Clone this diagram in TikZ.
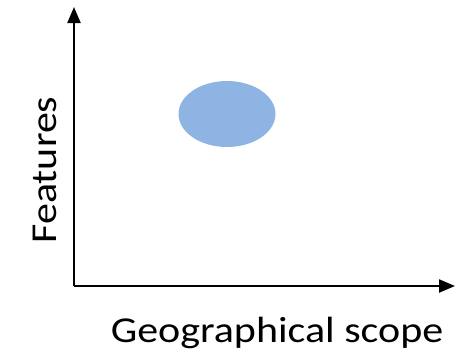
\documentclass[tikz,border=0pt]{standalone}
\usepackage{fontspec}
\setmainfont{Carlito}[FakeStretch=1.15]
\usetikzlibrary{arrows.meta,shapes.geometric}
\definecolor{blobblue}{RGB}{142,180,227}
\tikzset{axislbl/.style={font=\fontsize{36.5}{44}\selectfont, inner sep=0pt}}

\begin{document}
\begin{tikzpicture}[x=1pt, y=-1pt, >={Triangle[length=16pt, width=13pt]},
  line width=2.2pt]
  \useasboundingbox (0,0) rectangle (463,354);
  % axes
  \coordinate (o) at (74, 286);
  \coordinate (ytip) at (74, 7);
  \coordinate (xtip) at (455, 286);
  \draw[->] (o) -- (ytip);
  \draw[->] (o) -- (xtip);
  % region
  \node[ellipse, fill=blobblue, draw=none, minimum width=97pt,
    minimum height=66pt, inner sep=0pt] (blob) at (227, 114) {};
  % labels
  \node[axislbl, rotate=90, anchor=base] (ylbl) at (56, 170) {Features};
  \node[axislbl, anchor=base] (xlbl) at (277, 342) {Geographical scope};
\end{tikzpicture}
\end{document}
